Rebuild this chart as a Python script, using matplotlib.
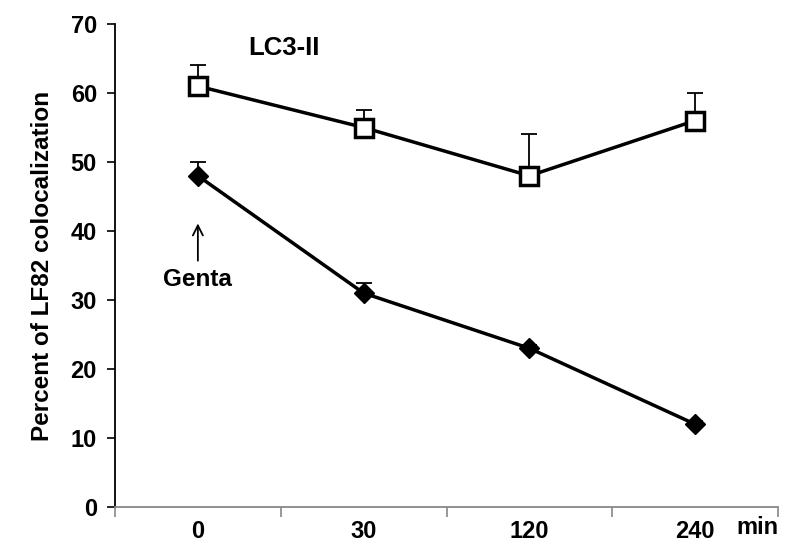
import matplotlib.pyplot as plt
import numpy as np

plt.rcParams['font.family'] = ['Liberation Sans', 'DejaVu Sans']
plt.rcParams['font.weight'] = 'bold'

# Data
categories = ['0', '30', '120', '240']
control_vals = [61, 55, 48, 56]
control_err = [3, 2.5, 6, 4]
genta_vals = [48, 31, 23, 12]
genta_err = [2, 1.5, 0.5, 0.5]

x = np.arange(len(categories))

fig = plt.figure(figsize=(7.93, 5.53), dpi=100)
ax = fig.add_axes([115 / 793, 1 - 507 / 553, (778 - 115) / 793, (507 - 24) / 553])

ax.errorbar(x, control_vals, yerr=[np.zeros(4), control_err], fmt='none',
            ecolor='black', elinewidth=1.3, capsize=6, capthick=1.3, zorder=2)
ax.plot(x, control_vals, color='black', lw=2.5, marker='s', markersize=13,
        markerfacecolor='white', markeredgecolor='black', markeredgewidth=2.5, zorder=3)

ax.errorbar(x, genta_vals, yerr=[np.zeros(4), genta_err], fmt='none',
            ecolor='black', elinewidth=1.3, capsize=6, capthick=1.3, zorder=2)
ax.plot(x, genta_vals, color='black', lw=2.5, marker='D', markersize=10,
        markerfacecolor='black', markeredgecolor='black', zorder=3)

ax.set_xlim(-0.5, 3.5)
ax.set_ylim(0, 70)
ax.set_yticks(range(0, 71, 10))
ax.set_xticks(np.arange(-0.5, 3.6, 1))
ax.set_xticklabels([])
ax.set_xticks(x, minor=True)
ax.set_xticklabels(categories, minor=True)
ax.tick_params(axis='x', which='minor', length=0, pad=9, labelsize=17)
ax.tick_params(axis='x', which='major', length=7, color='#888888', width=1.2)
ax.tick_params(axis='y', length=6, width=1.2, labelsize=17, pad=7)

ax.spines['top'].set_visible(False)
ax.spines['right'].set_visible(False)
ax.spines['left'].set_linewidth(1.3)
ax.spines['bottom'].set_color('#888888')
ax.spines['bottom'].set_linewidth(1.3)

ax.set_ylabel('Percent of LF82 colocalization', fontsize=17.5, fontweight='bold', labelpad=12)
ax.text(1.0, -0.042, 'min', transform=ax.transAxes, fontsize=17, fontweight='bold',
        ha='right', va='center')

ax.text(0.52, 66.5, 'LC3-II', fontsize=18.5, fontweight='bold', ha='center', va='center')

ax.annotate('', xy=(0, 41.5), xytext=(0, 35.3),
            arrowprops=dict(arrowstyle='->', color='black', lw=1.3, mutation_scale=18))
ax.text(0, 33.0, 'Genta', fontsize=17.5, fontweight='bold', ha='center', va='center')

fig.savefig('out.png', dpi=100)
